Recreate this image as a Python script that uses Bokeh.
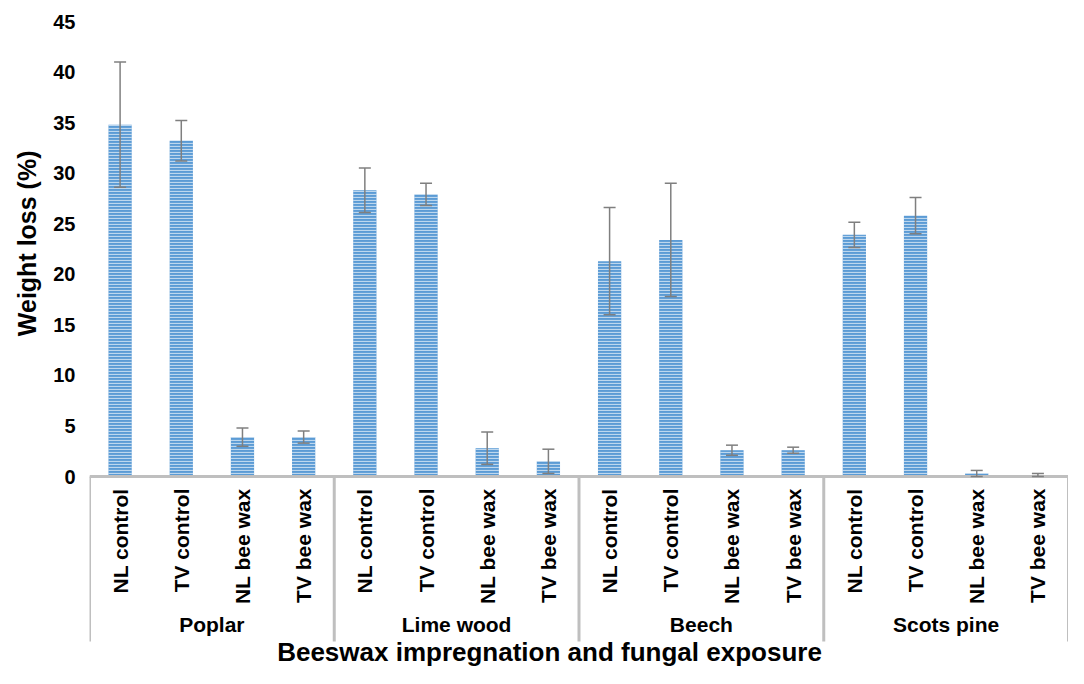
import math
from bokeh.plotting import figure
from bokeh.models import ColumnDataSource, FactorRange, Whisker, TeeHead, Title, Label
from bokeh.embed import file_html
from bokeh.resources import INLINE

woods = ["Poplar", "Lime wood", "Beech", "Scots pine"]
treatments = ["NL control", "TV control", "NL bee wax", "TV bee wax"]

poplar = [34.8, 33.2, 3.9, 3.9]
poplar_sd = [6.2, 2.0, 0.9, 0.6]
lime = [28.3, 27.9, 2.8, 1.5]
lime_sd = [2.2, 1.1, 1.6, 1.2]
beech = [21.3, 23.4, 2.6, 2.6]
beech_sd = [5.3, 5.6, 0.5, 0.3]
pine = [23.9, 25.8, 0.3, 0.15]
pine_sd = [1.25, 1.8, 0.3, 0.15]

means = [poplar, lime, beech, pine]
sds = [poplar_sd, lime_sd, beech_sd, pine_sd]

x = [(w, t) for w in woods for t in treatments]
vals = [v for m in means for v in m]
errs = [e for s in sds for e in s]
src = ColumnDataSource(dict(
    x=x, top=vals,
    upper=[v + e for v, e in zip(vals, errs)],
    lower=[v - e for v, e in zip(vals, errs)],
))

FONT = "Liberation Sans"
GRAY = "#BFBFBF"
W, H = 1068, 668
BL, BT = 88, 21
ZERO_PX = 476          # pixel row of the value 0 (x axis line)
SEP_PX = 641           # bottom end of the group boundary lines
TITLE_TOP_PX = 636     # top row of the x-axis title box
YMAX = 45
ppu = (ZERO_PX - BT) / YMAX
y_start = -(H - ZERO_PX) / ppu
y_sep = -(SEP_PX - ZERO_PX) / ppu
y_title = -(TITLE_TOP_PX - ZERO_PX) / ppu

p = figure(
    width=W, height=H,
    x_range=FactorRange(*x, range_padding=0, group_padding=0, factor_padding=0),
    y_range=(y_start, YMAX),
    output_backend="svg", toolbar_location=None,
    min_border_left=BL, min_border_right=0, min_border_top=BT, min_border_bottom=0,
)
p.outline_line_color = None
p.xgrid.grid_line_color = None
p.ygrid.grid_line_color = None

p.vbar(x="x", top="top", width=0.38, source=src,
       fill_color="#5B9BD5", line_color=None,
       hatch_pattern="horizontal_line", hatch_color="white",
       hatch_alpha=0.6, hatch_scale=3, hatch_weight=1.2)

head = dict(size=12, line_color="#7F7F7F", line_width=1.5)
p.add_layout(Whisker(base="x", upper="upper", lower="lower", source=src,
                     level="overlay",
                     line_color="#7F7F7F", line_width=1.5,
                     upper_head=TeeHead(**head), lower_head=TeeHead(**head)))

# group boundary lines below the axis (synthetic category coordinates)
n = len(treatments)
bounds = [k * n for k in range(len(woods) + 1)]
p.segment(x0=bounds, y0=[0] * len(bounds), x1=bounds, y1=[y_sep] * len(bounds),
          line_color=GRAY, line_width=3)

# y axis
p.yaxis.ticker = list(range(0, YMAX + 1, 5))
p.yaxis.axis_line_color = None
p.yaxis.major_tick_line_color = None
p.yaxis.minor_tick_line_color = None
p.yaxis.major_label_standoff = 8
p.yaxis.major_label_text_font = FONT
p.yaxis.major_label_text_font_style = "bold"
p.yaxis.major_label_text_font_size = "20px"
p.yaxis.major_label_text_color = "black"

p.add_layout(Title(text="Weight loss (%)", align="right", offset=129,
                   text_font=FONT, text_font_style="bold", text_font_size="25px",
                   text_color="black", standoff=20), "left")

# x axis, pinned at value 0 inside the frame
xa = p.xaxis[0]
xa.fixed_location = 0
xa.axis_line_color = GRAY
xa.axis_line_width = 3
xa.major_tick_line_color = None
xa.minor_tick_line_color = None
xa.major_label_orientation = math.pi / 2
xa.major_label_standoff = 6
xa.major_label_text_font = FONT
xa.major_label_text_font_style = "bold"
xa.major_label_text_font_size = "21px"
xa.major_label_text_color = "black"
xa.group_text_font = FONT
xa.group_text_font_style = "bold"
xa.group_text_font_size = "21px"
xa.group_text_color = "black"
xa.separator_line_color = None

p.add_layout(Label(x=460, x_units="screen", y=y_title,
                   text="Beeswax impregnation and fungal exposure",
                   text_font=FONT, text_font_style="bold", text_font_size="26px",
                   text_color="black", text_align="center", text_baseline="top"))

open("out.html", "w").write(file_html(p, INLINE))
